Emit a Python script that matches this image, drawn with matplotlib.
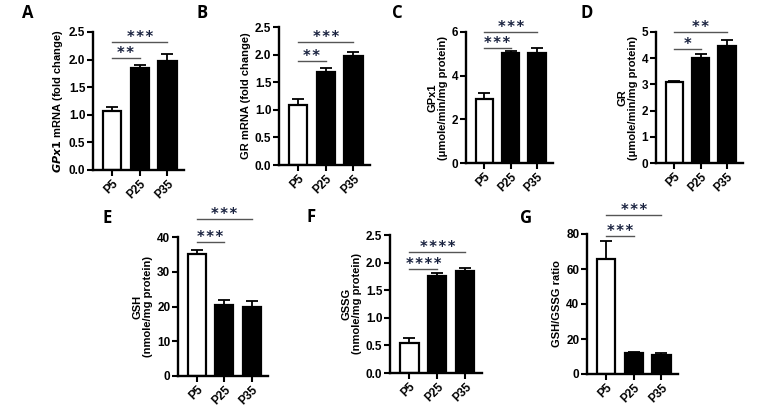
import matplotlib.pyplot as plt
import numpy as np

plt.rcParams['font.family'] = ['Liberation Sans', 'DejaVu Sans']
plt.rcParams['font.weight'] = 'bold'

groups = ['P5', 'P25', 'P35']

# means and upper SEM per panel
gpx1_mrna = [1.07, 1.85, 1.98]
gpx1_mrna_err = [0.07, 0.06, 0.12]
gr_mrna = [1.08, 1.68, 1.97]
gr_mrna_err = [0.11, 0.08, 0.08]
gpx1_act = [2.95, 5.02, 5.05]
gpx1_act_err = [0.25, 0.10, 0.20]
gr_act = [3.08, 4.02, 4.45]
gr_act_err = [0.04, 0.15, 0.25]
gsh = [35.0, 20.5, 20.0]
gsh_err = [1.4, 1.3, 1.5]
gssg = [0.54, 1.75, 1.85]
gssg_err = [0.09, 0.07, 0.06]
ratio = [66.0, 11.8, 10.8]
ratio_err = [10.0, 0.8, 1.0]

W, H = 762, 416
fig = plt.figure(figsize=(W / 100, H / 100), dpi=100)


def px_axes(x0, y0, x1, y1):
    return fig.add_axes([x0 / W, 1 - y1 / H, (x1 - x0) / W, (y1 - y0) / H])


# panel: (letter, letter pos, axes px, values, errs, ylim, yticks, ylabel, sig brackets)
panels = [
    ('A', (22, 13), (93, 32, 184, 170), gpx1_mrna, gpx1_mrna_err, 2.5,
     [0, 0.5, 1.0, 1.5, 2.0, 2.5], r'$\bf{\it{GPx1}}$ mRNA (fold change)',
     [(1, 2.02, '**'), (2, 2.32, '***')], '{:.1f}'),
    ('B', (197, 13), (279, 27, 370, 165), gr_mrna, gr_mrna_err, 2.5,
     [0, 0.5, 1.0, 1.5, 2.0, 2.5], 'GR mRNA (fold change)',
     [(1, 1.88, '**'), (2, 2.22, '***')], '{:.1f}'),
    ('C', (392, 13), (466, 32, 553, 163), gpx1_act, gpx1_act_err, 6,
     [0, 2, 4, 6], 'GPx1\n(μmole/min/mg protein)',
     [(1, 5.28, '***'), (2, 6.0, '***')], '{:.0f}'),
    ('D', (580, 13), (656, 32, 743, 163), gr_act, gr_act_err, 5,
     [0, 1, 2, 3, 4, 5], 'GR\n(μmole/min/mg protein)',
     [(1, 4.35, '*'), (2, 5.01, '**')], '{:.0f}'),
    ('E', (103, 218), (178, 237, 268, 376), gsh, gsh_err, 40,
     [0, 10, 20, 30, 40], 'GSH\n(nmole/mg protein)',
     [(1, 38.5, '***'), (2, 45.2, '***')], '{:.0f}'),
    ('F', (307, 217), (390, 235, 482, 373), gssg, gssg_err, 2.5,
     [0, 0.5, 1.0, 1.5, 2.0, 2.5], 'GSSG\n(nmole/mg protein)',
     [(1, 1.88, '****'), (2, 2.2, '****')], '{:.1f}'),
    ('G', (520, 218), (587, 234, 678, 374), ratio, ratio_err, 80,
     [0, 20, 40, 60, 80], 'GSH/GSSG ratio',
     [(1, 79, '***'), (2, 90.9, '***')], '{:.0f}'),
]

x = np.arange(len(groups))
for letter, lpos, rect, vals, errs, ytop, yticks, ylabel, sigs, fmt in panels:
    ax = px_axes(*rect)
    colors = ['white', 'black', 'black']
    ax.bar(x, vals, width=0.66, color=colors, edgecolor='black', linewidth=1.6, zorder=2)
    ax.errorbar(x, vals, yerr=[np.zeros(3), errs], fmt='none', ecolor='black',
                elinewidth=1.3, capsize=4, capthick=1.3, zorder=1)
    ax.set_xlim(-0.69, 2.6)
    ax.set_ylim(0, ytop)
    ax.set_yticks(yticks)
    ax.set_yticklabels([fmt.format(t) for t in yticks], fontsize=8.5, fontweight='bold')
    ax.set_xticks(x)
    ax.set_xticklabels(groups, rotation=45, ha='right', rotation_mode='anchor',
                       fontsize=8.5, fontweight='bold')
    for s in ['top', 'right']:
        ax.spines[s].set_visible(False)
    for s in ['left', 'bottom']:
        ax.spines[s].set_linewidth(1.7)
    ax.tick_params(width=1.5, length=4, pad=1.5)
    ax.set_ylabel(ylabel, fontsize=8, fontweight='bold', labelpad=3, linespacing=1.0)
    for end, yv, stars in sigs:
        ax.plot([0, end], [yv, yv], color='#555555', lw=1.0, clip_on=False)
        ax.annotate('\u200a'.join(stars), (end / 2, yv), xytext=(0, 0),
                    textcoords='offset points', ha='center', va='baseline',
                    fontsize=10.5, fontweight='bold', family='DejaVu Sans',
                    color='#1a2340', annotation_clip=False)
    fig.text(lpos[0] / W, 1 - lpos[1] / H, letter, fontsize=12, fontweight='bold',
             family=['Open Sans', 'DejaVu Sans'], ha='left', va='center')

fig.savefig('out.png', dpi=100)
